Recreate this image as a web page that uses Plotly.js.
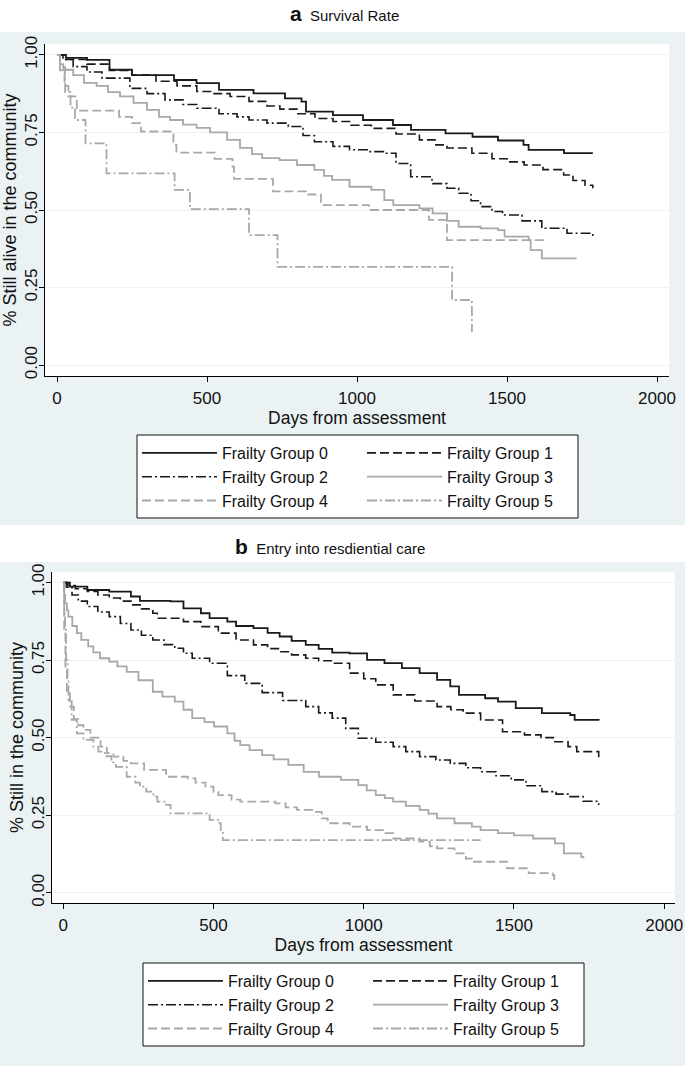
<!DOCTYPE html>
<html>
<head>
<meta charset="utf-8">
<script src="https://cdn.plot.ly/plotly-3.0.1.min.js"></script>
<style>html,body{margin:0;padding:0;background:#fff;}#chart{width:685px;height:1066px;}</style>
</head>
<body>
<div id="chart"></div>
<script>
// ---------- data ----------
const groupNames = ['Frailty Group 0','Frailty Group 1','Frailty Group 2','Frailty Group 3','Frailty Group 4','Frailty Group 5'];
const xTickVals = [0, 500, 1000, 1500, 2000];
const yTickVals = [0, 0.25, 0.5, 0.75, 1];
const yTickText = ['0.00', '0.25', '0.50', '0.75', '1.00'];

// panel a: survival
const survDays0 = [0,30,100,175,250,390,465,540,655,760,815,830,920,1020,1120,1180,1295,1385,1470,1555,1572,1690,1786];
const survVal0  = [1.0,0.99,0.984,0.952,0.935,0.919,0.909,0.887,0.876,0.86,0.849,0.817,0.806,0.79,0.774,0.758,0.747,0.736,0.724,0.71,0.694,0.683,0.683];
const survDays1 = [0,30,100,175,250,330,400,466,520,577,640,700,743,800,860,920,980,1048,1130,1208,1260,1300,1383,1450,1500,1557,1620,1689,1720,1760,1786];
const survVal1  = [1.0,0.985,0.97,0.95,0.935,0.915,0.9,0.882,0.875,0.866,0.85,0.835,0.825,0.81,0.795,0.785,0.773,0.763,0.745,0.726,0.71,0.70,0.683,0.665,0.655,0.645,0.63,0.613,0.595,0.58,0.57];
const survDays2 = [0,20,54,100,150,243,300,360,420,466,540,600,640,700,771,820,858,920,975,1040,1091,1130,1179,1250,1300,1339,1380,1412,1450,1485,1550,1616,1700,1786];
const survVal2  = [1.0,0.985,0.962,0.945,0.925,0.892,0.875,0.855,0.84,0.828,0.81,0.80,0.79,0.78,0.769,0.74,0.72,0.705,0.694,0.688,0.683,0.65,0.607,0.585,0.57,0.554,0.53,0.511,0.495,0.484,0.465,0.441,0.425,0.414];
const survDays3 = [0,10,21,54,90,132,170,210,255,300,340,377,420,465,510,567,610,650,684,742,800,858,890,917,975,1048,1091,1121,1208,1252,1300,1339,1412,1470,1492,1572,1579,1616,1732];
const survVal3  = [1.0,0.97,0.952,0.935,0.91,0.90,0.88,0.866,0.845,0.823,0.80,0.79,0.775,0.765,0.75,0.726,0.70,0.68,0.667,0.661,0.645,0.629,0.61,0.597,0.575,0.565,0.532,0.516,0.505,0.489,0.465,0.446,0.441,0.435,0.414,0.403,0.371,0.344,0.344];
const survDays4 = [0,10,25,38,66,207,250,280,388,398,525,585,590,720,830,880,1040,1240,1300,1630];
const survVal4  = [1.0,0.95,0.90,0.866,0.82,0.80,0.78,0.753,0.71,0.685,0.665,0.64,0.60,0.56,0.55,0.516,0.50,0.468,0.403,0.403];
const survDays5 = [0,10,27,45,60,95,165,392,443,640,735,1317,1383];
const survVal5  = [1.0,0.96,0.88,0.83,0.79,0.715,0.618,0.565,0.503,0.419,0.317,0.21,0.107];

// panel b: entry into residential care
const careDays0 = [0,22,80,153,225,255,357,400,458,487,546,575,633,680,720,760,807,850,895,953,1011,1069,1127,1186,1244,1288,1317,1404,1447,1506,1593,1687,1702,1782];
const careVal0  = [1.0,0.987,0.976,0.971,0.955,0.941,0.939,0.917,0.901,0.885,0.874,0.86,0.853,0.838,0.826,0.812,0.799,0.786,0.774,0.772,0.751,0.74,0.724,0.708,0.686,0.665,0.638,0.627,0.616,0.595,0.579,0.573,0.557,0.555];
const careDays1 = [0,15,40,80,115,153,190,225,260,298,313,400,458,516,575,633,680,720,760,807,850,895,953,1000,1040,1098,1170,1244,1290,1331,1389,1462,1535,1590,1636,1680,1709,1782];
const careVal1  = [1.0,0.99,0.98,0.971,0.96,0.95,0.94,0.928,0.915,0.901,0.885,0.874,0.858,0.837,0.815,0.799,0.787,0.777,0.767,0.756,0.748,0.74,0.708,0.69,0.67,0.638,0.618,0.60,0.59,0.579,0.557,0.519,0.509,0.50,0.487,0.471,0.455,0.437];
const careDays2 = [0,10,29,50,80,115,153,190,225,260,298,335,371,400,429,487,546,604,662,730,807,850,895,940,982,1040,1098,1140,1186,1240,1288,1340,1389,1440,1491,1540,1593,1640,1680,1730,1782];
const careVal2  = [1.0,0.985,0.96,0.94,0.923,0.905,0.89,0.868,0.847,0.83,0.815,0.80,0.788,0.772,0.756,0.74,0.70,0.675,0.645,0.62,0.60,0.58,0.563,0.53,0.498,0.485,0.471,0.455,0.439,0.428,0.417,0.403,0.39,0.377,0.364,0.345,0.326,0.318,0.31,0.295,0.283];
const careDays3 = [0,3,6,12,17,30,45,60,83,100,122,153,180,211,250,298,330,371,400,429,470,502,546,570,589,620,662,700,749,800,851,924,982,1010,1040,1070,1098,1140,1186,1215,1244,1302,1360,1389,1447,1500,1564,1636,1666,1724,1731];
const careVal3  = [1.0,0.96,0.933,0.91,0.89,0.86,0.837,0.815,0.794,0.775,0.756,0.745,0.73,0.712,0.685,0.648,0.632,0.616,0.59,0.563,0.55,0.536,0.514,0.49,0.476,0.46,0.444,0.43,0.412,0.39,0.374,0.364,0.347,0.33,0.315,0.305,0.294,0.28,0.267,0.255,0.24,0.224,0.213,0.202,0.192,0.185,0.175,0.159,0.127,0.116,0.111];
const careDays4 = [0,3,7,12,22,35,50,67,90,124,145,167,200,225,269,342,415,440,473,500,516,560,589,706,740,778,836,860,880,953,1011,1069,1098,1186,1220,1244,1302,1340,1360,1477,1549,1629,1634];
const careVal4  = [1.0,0.85,0.72,0.644,0.60,0.56,0.54,0.525,0.50,0.471,0.45,0.439,0.425,0.417,0.396,0.374,0.369,0.355,0.342,0.325,0.315,0.30,0.294,0.288,0.275,0.267,0.261,0.24,0.224,0.213,0.202,0.192,0.175,0.165,0.15,0.143,0.127,0.11,0.10,0.079,0.063,0.057,0.041];
const careDays5 = [0,3,6,9,14,17,28,45,67,100,117,138,160,175,211,240,255,276,300,313,342,357,487,516,524,531,1389];
const careVal5  = [1.0,0.9,0.858,0.75,0.686,0.622,0.557,0.514,0.493,0.471,0.455,0.44,0.42,0.406,0.374,0.355,0.342,0.326,0.31,0.294,0.283,0.256,0.235,0.224,0.202,0.17,0.17];

const survDays = [survDays0,survDays1,survDays2,survDays3,survDays4,survDays5];
const survVals = [survVal0,survVal1,survVal2,survVal3,survVal4,survVal5];
const careDays = [careDays0,careDays1,careDays2,careDays3,careDays4,careDays5];
const careVals = [careVal0,careVal1,careVal2,careVal3,careVal4,careVal5];

// ---------- styles ----------
const BLACK = '#1a1a1a', GRAY = '#a8a8a8';
const lineStyles = [
  {color: BLACK, dash: 'solid', width: 1.8},
  {color: BLACK, dash: '9px,4px', width: 1.6},
  {color: BLACK, dash: '10px,3px,2px,3px', width: 1.6},
  {color: GRAY, dash: 'solid', width: 1.8},
  {color: GRAY, dash: '9px,4px', width: 1.8},
  {color: GRAY, dash: '10px,3px,2px,3px', width: 1.8}
];

const traces = [];
for (let i = 0; i < 6; i++) {
  traces.push({x: survDays[i], y: survVals[i], type: 'scatter', mode: 'lines', line: Object.assign({shape: 'hv'}, lineStyles[i]),
    name: groupNames[i], xaxis: 'x', yaxis: 'y', legend: 'legend', hoverinfo: 'skip'});
}
for (let i = 0; i < 6; i++) {
  traces.push({x: careDays[i], y: careVals[i], type: 'scatter', mode: 'lines', line: Object.assign({shape: 'hv'}, lineStyles[i]),
    name: groupNames[i], xaxis: 'x2', yaxis: 'y2', legend: 'legend2', hoverinfo: 'skip'});
}

const W = 685, H = 1066, ML = 45, MR = 10;
const PW = W - ML - MR;
const px = v => (v - ML) / PW;      // paper x from pixel
const py = v => 1 - v / H;          // paper y from pixel
const FONT = 'Liberation Sans, Arial, sans-serif';
const BG = '#eaf2f3';

function xAxis(domain, range, anchor) {
  return {domain: domain, range: range, anchor: anchor, tickvals: xTickVals, ticks: 'outside', ticklen: 5, tickcolor: '#000', tickwidth: 1,
    showline: true, linecolor: '#000', linewidth: 1, showgrid: false, zeroline: false, fixedrange: true,
    tickfont: {size: 17, color: '#111', family: FONT}, ticklabelstandoff: 2,
    title: {text: 'Days from assessment', font: {size: 17.5, color: '#111', family: FONT}, standoff: 0}, automargin: false};
}
function yAxis(domain, range, title, anchor) {
  return {domain: domain, range: range, anchor: anchor, tickvals: yTickVals, ticktext: yTickText, tickangle: -90, ticks: 'outside', ticklen: 5,
    tickcolor: '#000', tickwidth: 1, showline: true, linecolor: '#000', linewidth: 1, showgrid: true, gridcolor: BG, gridwidth: 1,
    zeroline: false, fixedrange: true, tickfont: {size: 17, color: '#111', family: FONT}, ticklabelstandoff: -5,
    title: {text: title, font: {size: 18, color: '#111', family: FONT}, standoff: 0}, automargin: false};
}
function legendCfg(x, y) {
  return {orientation: 'h', x: x, y: y, xanchor: 'left', yanchor: 'top', bgcolor: 'rgba(0,0,0,0)', borderwidth: 0,
    font: {size: 16, color: '#111', family: FONT}, itemwidth: 75, entrywidth: 135, entrywidthmode: 'pixels', traceorder: 'normal',
    itemclick: false, itemdoubleclick: false};
}
function box(x0, y0, x1, y1, fill, lineW) {
  return {type: 'rect', xref: 'paper', yref: 'paper', x0: px(x0), x1: px(x1), y0: py(y1), y1: py(y0), fillcolor: fill,
    line: {width: lineW, color: '#111'}, layer: 'below'};
}

const layout = {
  width: W, height: H,
  margin: {l: ML, r: MR, t: 0, b: 0},
  paper_bgcolor: BG, plot_bgcolor: '#fff',
  font: {family: FONT, color: '#111'},
  xaxis: xAxis([px(45), px(669)], [-40, 2040], 'y'),
  yaxis: yAxis([py(376), py(44)], [-0.035, 1.035], '% Still alive in the community', 'x'),
  xaxis2: xAxis([px(52), px(675)], [-37.6, 2036], 'y2'),
  yaxis2: yAxis([py(903), py(572)], [-0.033, 1.034], '% Still in the community', 'x2'),
  legend: legendCfg(px(137), py(436)),
  legend2: legendCfg(px(143), py(964)),
  shapes: [
    box(0, 0, W, 32, '#fff', 0),
    box(0, 525, W, 562, '#fff', 0),
    box(137, 435, 578, 518, '#fff', 1),
    box(143, 963, 584, 1046, '#fff', 1)
  ],
  annotations: [
    {xref: 'paper', yref: 'paper', x: px(344), y: py(13), xanchor: 'center', yanchor: 'middle', showarrow: false,
      text: '<b><span style="font-size:21px">a</span></b>  Survival Rate', font: {size: 15, color: '#111', family: FONT}},
    {xref: 'paper', yref: 'paper', x: px(330), y: py(546), xanchor: 'center', yanchor: 'middle', showarrow: false,
      text: '<b><span style="font-size:21px">b</span></b>  Entry into resdiential care', font: {size: 15, color: '#111', family: FONT}}
  ],
  showlegend: true
};

Plotly.newPlot('chart', traces, layout, {displayModeBar: false, staticPlot: true});
</script>
</body>
</html>
